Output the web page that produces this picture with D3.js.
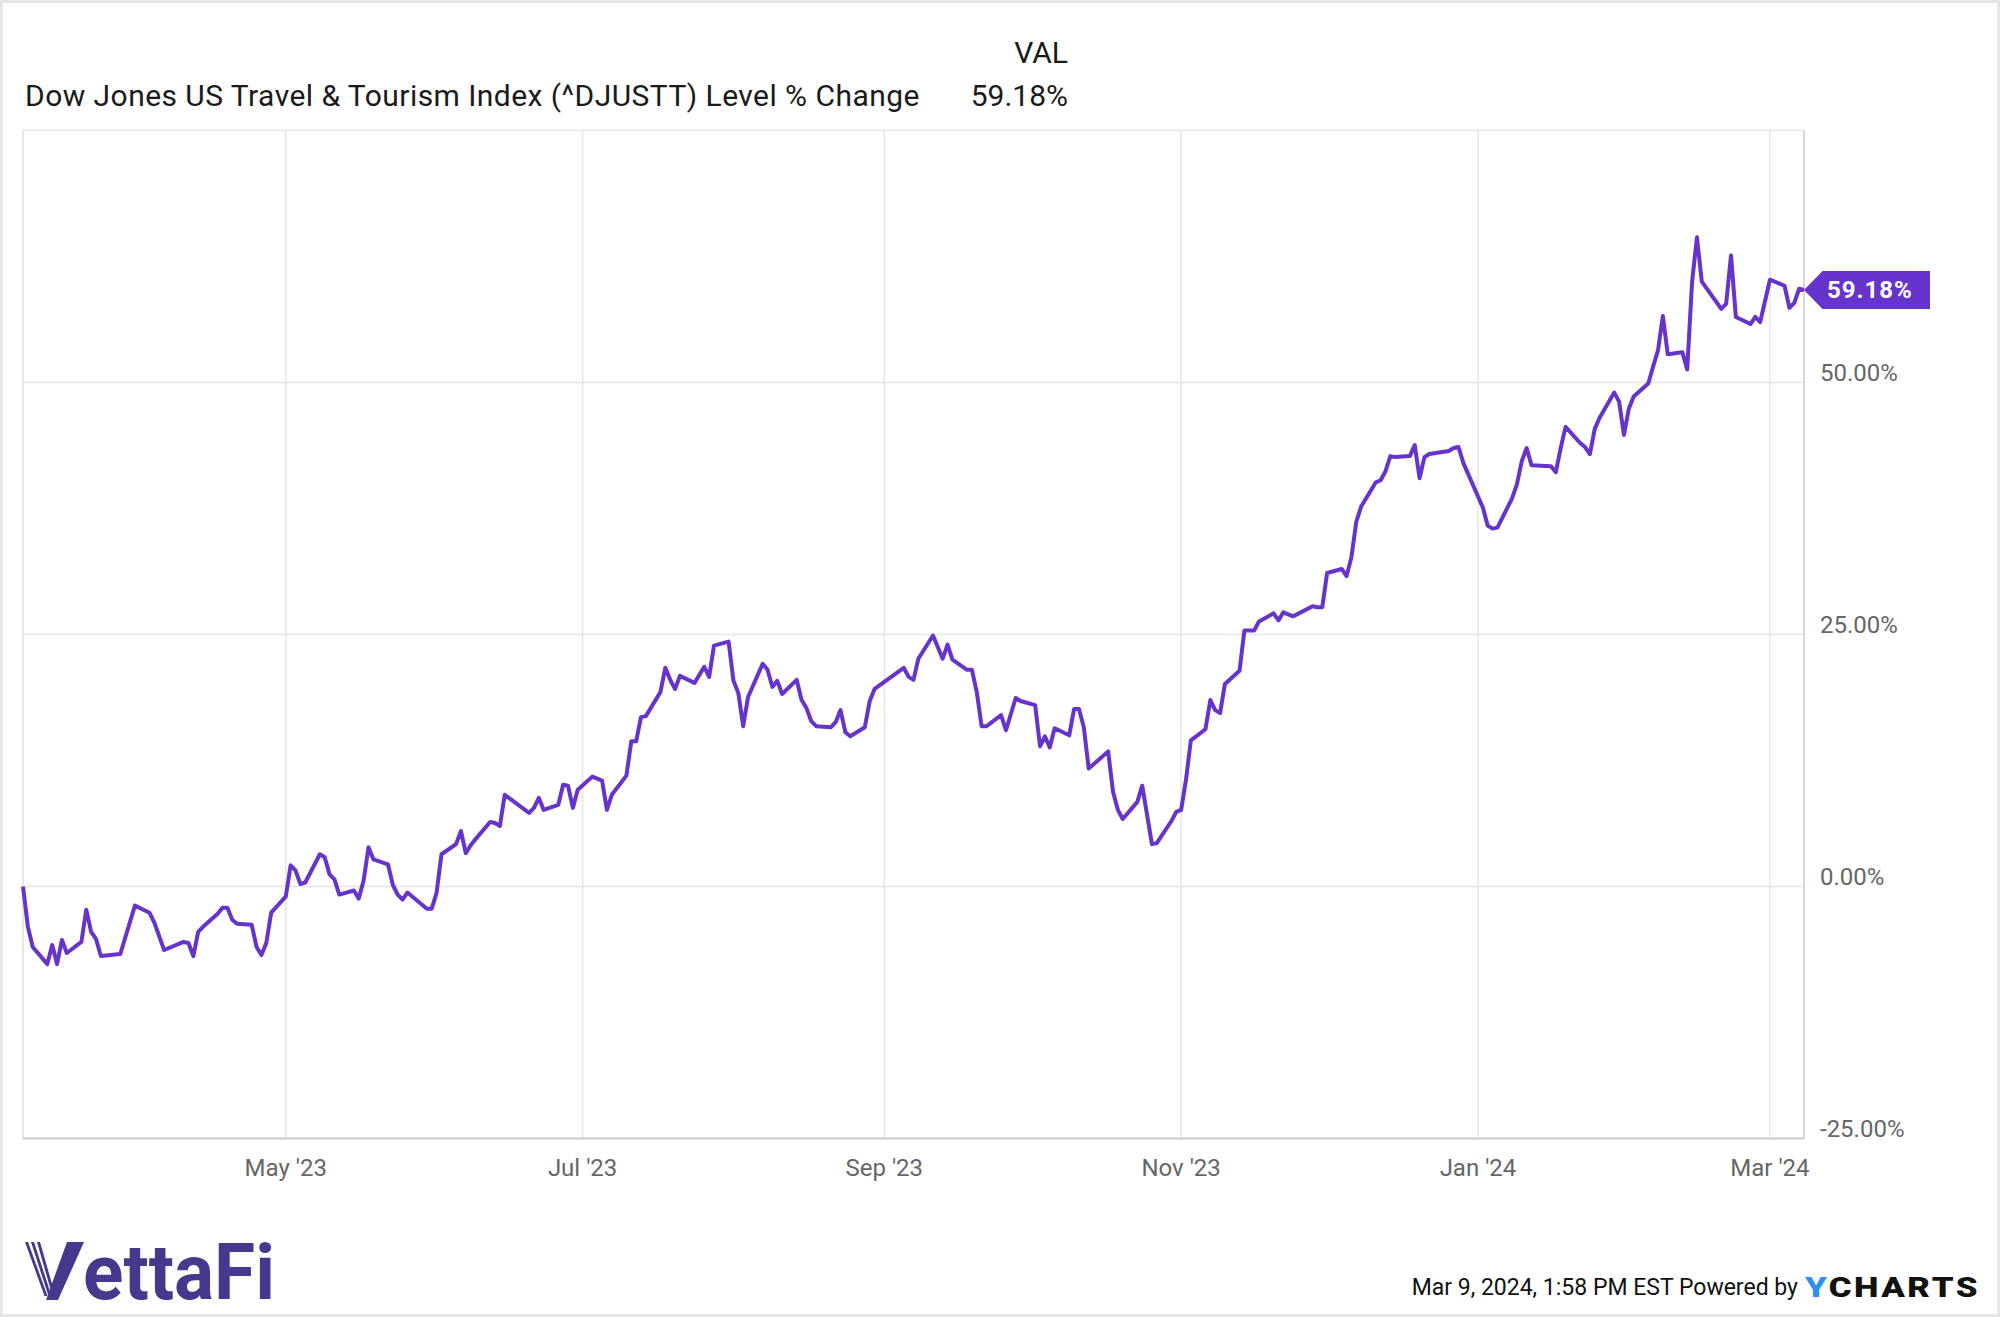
<!DOCTYPE html>
<html>
<head>
<meta charset="utf-8">
<script src="https://cdn.jsdelivr.net/npm/d3@7"></script>
<style>
  html, body { margin: 0; padding: 0; background: #fff; }
  svg { display: block; font-family: Roboto, "Noto Sans", sans-serif; }
</style>
</head>
<body>
<div id="chart"></div>
<script>
// Data (one entry per visible vertex)
const dates = [
  "2023-03-08","2023-03-09","2023-03-10","2023-03-13","2023-03-14","2023-03-15","2023-03-16","2023-03-17",
  "2023-03-20","2023-03-21","2023-03-22","2023-03-23","2023-03-24","2023-03-28","2023-03-31",
  "2023-04-03","2023-04-04","2023-04-06","2023-04-10","2023-04-11","2023-04-12","2023-04-13","2023-04-14",
  "2023-04-17","2023-04-18","2023-04-19","2023-04-20","2023-04-21","2023-04-24","2023-04-25","2023-04-26",
  "2023-04-27","2023-04-28","2023-05-01","2023-05-02","2023-05-03","2023-05-04","2023-05-05","2023-05-08",
  "2023-05-09","2023-05-10","2023-05-11","2023-05-12","2023-05-15","2023-05-16","2023-05-17","2023-05-18",
  "2023-05-19","2023-05-22","2023-05-23","2023-05-24","2023-05-25","2023-05-26","2023-05-30","2023-05-31",
  "2023-06-01","2023-06-02","2023-06-05","2023-06-06","2023-06-07","2023-06-08","2023-06-09","2023-06-12",
  "2023-06-13","2023-06-14","2023-06-15","2023-06-20","2023-06-21","2023-06-22","2023-06-23","2023-06-26",
  "2023-06-27","2023-06-28","2023-06-29","2023-06-30","2023-07-03","2023-07-05","2023-07-06","2023-07-07",
  "2023-07-10","2023-07-11","2023-07-12","2023-07-13","2023-07-14","2023-07-17","2023-07-18","2023-07-19",
  "2023-07-20","2023-07-21","2023-07-24","2023-07-26","2023-07-27","2023-07-28","2023-07-31","2023-08-01",
  "2023-08-02","2023-08-03","2023-08-04","2023-08-07","2023-08-08","2023-08-09","2023-08-10","2023-08-11",
  "2023-08-14","2023-08-15","2023-08-16","2023-08-17","2023-08-18","2023-08-21","2023-08-22","2023-08-23",
  "2023-08-24","2023-08-25","2023-08-28","2023-08-29","2023-08-30","2023-09-05","2023-09-06","2023-09-07",
  "2023-09-08","2023-09-11","2023-09-13","2023-09-14","2023-09-15","2023-09-18","2023-09-19","2023-09-20",
  "2023-09-21","2023-09-22","2023-09-25","2023-09-26","2023-09-28","2023-09-29","2023-10-02","2023-10-03",
  "2023-10-04","2023-10-05","2023-10-06","2023-10-09","2023-10-10","2023-10-11","2023-10-12","2023-10-13",
  "2023-10-17","2023-10-18","2023-10-19","2023-10-20","2023-10-23","2023-10-24","2023-10-26","2023-10-27",
  "2023-10-30","2023-10-31","2023-11-01","2023-11-02","2023-11-03","2023-11-06","2023-11-07","2023-11-08",
  "2023-11-09","2023-11-10","2023-11-13","2023-11-14","2023-11-16","2023-11-17","2023-11-20","2023-11-21",
  "2023-11-22","2023-11-24","2023-11-28","2023-11-29","2023-11-30","2023-12-01","2023-12-04","2023-12-05",
  "2023-12-06","2023-12-07","2023-12-08","2023-12-11","2023-12-12","2023-12-13","2023-12-14","2023-12-15",
  "2023-12-18","2023-12-19","2023-12-20","2023-12-21","2023-12-22","2023-12-26","2023-12-27","2023-12-28",
  "2023-12-29","2024-01-02","2024-01-03","2024-01-04","2024-01-05","2024-01-08","2024-01-09","2024-01-10",
  "2024-01-11","2024-01-12","2024-01-16","2024-01-17","2024-01-18","2024-01-19","2024-01-22","2024-01-23",
  "2024-01-24","2024-01-25","2024-01-26","2024-01-29","2024-01-30","2024-01-31","2024-02-01","2024-02-02",
  "2024-02-05","2024-02-06","2024-02-07","2024-02-08","2024-02-09","2024-02-12","2024-02-13","2024-02-14",
  "2024-02-15","2024-02-16","2024-02-20","2024-02-21","2024-02-22","2024-02-23","2024-02-26","2024-02-27",
  "2024-02-28","2024-03-01","2024-03-04","2024-03-05","2024-03-06","2024-03-07","2024-03-08"
]
const values = [
  0, -4.0, -6.0, -7.7, -5.8, -7.7, -5.3, -6.6,
  -5.5, -2.3, -4.5, -5.2, -6.9, -6.7, -1.9,
  -2.6, -3.6, -6.3, -5.5, -5.6, -6.9, -4.5, -4.0,
  -2.7, -2.1, -2.1, -3.3, -3.7, -3.8, -6.0, -6.8,
  -5.6, -2.6, -1.0, 2.1, 1.6, 0.25, 0.4, 3.2,
  2.9, 1.2, 0.7, -0.8, -0.4, -1.2, 0.6, 3.9,
  2.7, 2.2, 0.15, -0.8, -1.3, -0.6, -2.2, -2.2,
  -0.6, 3.2, 4.2, 5.5, 3.3, 4.1, 4.7, 6.4,
  6.3, 6.0, 9.1, 7.3, 7.8, 8.8, 7.6, 8.1,
  10.1, 10.0, 7.8, 9.6, 10.9, 10.5, 7.6, 9.1,
  11.0, 14.4, 14.4, 16.8, 16.9, 19.3, 21.7, 20.5,
  19.6, 20.9, 20.2, 21.8, 20.8, 23.9, 24.3, 20.4,
  19.2, 15.9, 18.8, 22.1, 21.5, 19.8, 20.4, 19.1,
  20.5, 18.5, 17.7, 16.4, 15.9, 15.8, 16.3, 17.5,
  15.3, 14.9, 15.8, 18.4, 19.6, 21.7, 20.8, 20.5,
  22.6, 24.9, 22.6, 24.0, 22.5, 21.5, 21.5, 19.3,
  15.9, 15.9, 17.0, 15.5, 18.7, 18.4, 18.0, 13.9,
  14.9, 13.8, 15.7, 15.0, 17.6, 17.6, 15.8, 11.7,
  13.4, 9.4, 7.6, 6.7, 8.4, 10.0, 4.2, 4.3,
  6.5, 7.4, 7.6, 10.6, 14.5, 15.6, 18.5, 17.5,
  17.2, 20.1, 21.4, 25.4, 25.4, 26.3, 27.1, 26.4,
  27.2, 26.8, 27.8, 27.7, 27.7, 31.1, 31.5, 30.8,
  32.7, 36.2, 37.7, 40.1, 40.3, 41.2, 42.7, 42.6,
  42.7, 43.8, 40.5, 42.6, 42.9, 43.2, 43.5, 43.6,
  42.0, 37.6, 35.8, 35.5, 35.6, 38.5, 39.9, 42.2,
  43.5, 41.8, 41.7, 41.1, 43.5, 45.6, 44.0, 43.6,
  42.9, 45.4, 46.5, 49.0, 48.1, 44.8, 47.4, 48.6,
  49.9, 51.6, 53.2, 56.6, 52.8, 53.0, 51.3, 60.0,
  64.4, 60.0, 57.3, 57.8, 62.6, 56.5, 55.8, 56.5,
  56.0, 60.2, 59.6, 57.4, 57.9, 59.3, 59.18
]
const xTickDates = ["2023-05-01", "2023-07-01", "2023-09-01", "2023-11-01", "2024-01-01", "2024-03-01"]
const xTickLabels = ["May '23", "Jul '23", "Sep '23", "Nov '23", "Jan '24", "Mar '24"]
const yTicks = [-25, 0, 25, 50]
const yGrid = [-25, 0, 25, 50, 75]
const seriesName = "Dow Jones US Travel & Tourism Index (^DJUSTT) Level % Change"
const lastValue = 59.18

const parse = d3.utcParse("%Y-%m-%d")
let data = dates.map((d, i) => ({date: parse(d), value: values[i]}))

// plain hyphen minus, like the reference
let pct = v => (v < 0 ? "-" : "") + Math.abs(v).toFixed(2) + "%"

// Dimensions
let W = 2000, H = 1317,
    plot = {left: 23, right: 1804, top: 130.5, bottom: 1138.5},
    purple = "#6633cc"

const svg = d3.select('#chart')
    .append('svg')
    .attr('width', W)
    .attr('height', H)

// outer frame
svg.append('rect')
    .attr('x', 1.5).attr('y', 1.5)
    .attr('width', W - 3).attr('height', H - 3)
    .attr('fill', '#fff')
    .attr('stroke', '#e6e6e6')
    .attr('stroke-width', 3)

// Scales
let x = d3.scaleUtc()
    .domain([parse("2023-03-08"), parse("2024-03-08")])
    .range([plot.left, plot.right])
let y = d3.scaleLinear()
    .domain([-25, 75])
    .range([plot.bottom, plot.top])

// Grid
let grid = svg.append('g').attr('class', 'grid')
grid.selectAll('.hgrid')
    .data(yGrid)
    .enter()
    .append('line')
    .attr('x1', plot.left).attr('x2', plot.right)
    .attr('y1', d => y(d)).attr('y2', d => y(d))
    .attr('stroke', '#e6e6e6')
    .attr('stroke-width', 1.5)
grid.selectAll('.vgrid')
    .data(xTickDates)
    .enter()
    .append('line')
    .attr('x1', d => x(parse(d))).attr('x2', d => x(parse(d)))
    .attr('y1', plot.top).attr('y2', plot.bottom)
    .attr('stroke', '#e6e6e6')
    .attr('stroke-width', 1.5)
// left border
grid.append('line')
    .attr('x1', plot.left).attr('x2', plot.left)
    .attr('y1', plot.top).attr('y2', plot.bottom)
    .attr('stroke', '#e0e0e0').attr('stroke-width', 1.5)
// right border
grid.append('line')
    .attr('x1', plot.right).attr('x2', plot.right)
    .attr('y1', plot.top).attr('y2', plot.bottom)
    .attr('stroke', '#cccccc').attr('stroke-width', 1.5)
// bottom border
grid.append('line')
    .attr('x1', plot.left).attr('x2', plot.right)
    .attr('y1', plot.bottom).attr('y2', plot.bottom)
    .attr('stroke', '#cccccc').attr('stroke-width', 2)

// X axis labels
svg.append('g')
    .selectAll('text')
    .data(xTickDates)
    .enter()
    .append('text')
    .attr('x', d => x(parse(d)))
    .attr('y', 1176)
    .attr('text-anchor', 'middle')
    .attr('font-size', 24)
    .attr('fill', '#666')
    .text((d, i) => xTickLabels[i])

// Y axis labels
svg.append('g')
    .selectAll('text')
    .data(yTicks)
    .enter()
    .append('text')
    .attr('x', plot.right + 16)
    .attr('y', d => y(d) - 2)
    .attr('font-size', 24)
    .attr('fill', '#666')
    .text(d => pct(d))

// Line
let line = d3.line()
    .x(d => x(d.date))
    .y(d => y(d.value))
svg.append('path')
    .datum(data)
    .attr('fill', 'none')
    .attr('stroke', purple)
    .attr('stroke-width', 4)
    .attr('stroke-linejoin', 'round')
    .attr('d', line)

// End value badge
let yc = y(lastValue), xe = x(data[data.length - 1].date)
svg.append('path')
    .attr('d', `M${xe},${yc} L${xe + 18.5},${yc - 19} L1930,${yc - 19} L1930,${yc + 19} L${xe + 18.5},${yc + 19} Z`)
    .attr('fill', purple)
svg.append('text')
    .attr('x', xe + 23)
    .attr('y', yc + 8.5)
    .attr('font-size', 24)
    .attr('font-weight', 'bold')
    .attr('letter-spacing', 1)
    .attr('fill', '#fff')
    .text(pct(lastValue))

// Header
svg.append('text')
    .attr('x', 1068).attr('y', 63)
    .attr('text-anchor', 'end')
    .attr('font-size', 30)
    .attr('fill', '#1a1a1a')
    .text('VAL')
svg.append('text')
    .attr('x', 25).attr('y', 106)
    .attr('font-size', 30)
    .attr('letter-spacing', 0.45)
    .attr('fill', '#1a1a1a')
    .text(seriesName)
svg.append('text')
    .attr('x', 1068).attr('y', 106)
    .attr('text-anchor', 'end')
    .attr('font-size', 30)
    .attr('fill', '#1a1a1a')
    .text(pct(lastValue))

// VettaFi logo
let logo = svg.append('g').attr('fill', '#46388c')
logo.append('path')
    .attr('d', 'M67,1242 L84,1242 L58,1300 L46,1300 Z')
;[[25, 44.5], [31, 48.5], [37, 52.5]].forEach(([a, b]) => {
    logo.append('path')
        .attr('d', `M${a},1242 L${a + 3},1242 L${b + 3},1296 L${b},1296 Z`)
})
logo.append('text')
    .attr('x', 83).attr('y', 1299)
    .attr('font-size', 78)
    .attr('font-weight', 'bold')
    .attr('textLength', 192)
    .attr('lengthAdjust', 'spacingAndGlyphs')
    .text('ettaFi')

// Footer
svg.append('text')
    .attr('x', 1798).attr('y', 1295)
    .attr('text-anchor', 'end')
    .attr('font-size', 23)
    .attr('fill', '#111')
    .text('Mar 9, 2024, 1:58 PM EST Powered by')
let ycharts = svg.append('text')
    .attr('x', 1805).attr('y', 1297)
    .attr('font-size', 28)
    .attr('font-weight', 900)
    .attr('letter-spacing', 2)
    .attr('textLength', 175)
    .attr('lengthAdjust', 'spacingAndGlyphs')
ycharts.append('tspan').attr('fill', '#2a8ff0').text('Y')
ycharts.append('tspan').attr('fill', '#111').text('CHARTS')
</script>
</body>
</html>
